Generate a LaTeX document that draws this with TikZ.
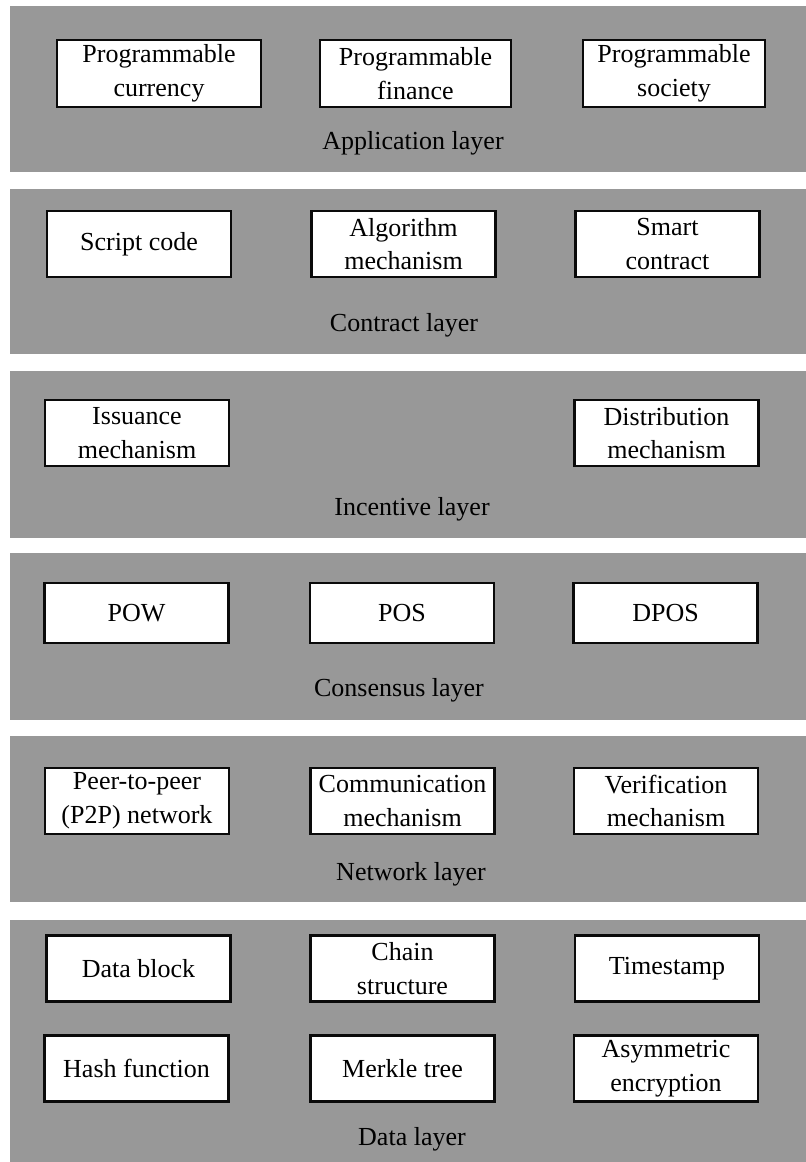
\documentclass[tikz,border=0pt]{standalone}
\usepackage{fontspec}
\setmainfont{Liberation Serif}
\usepackage{tikz}
\usetikzlibrary{positioning}
\definecolor{layerc}{RGB}{152,152,152}
\definecolor{boxc}{RGB}{10,10,10}

\begin{document}
\begin{tikzpicture}[x=0.025cm,y=-0.025cm,font=\fontsize{18.5}{24}\selectfont,
  layer/.style={fill=layerc},
  cell/.style={draw=boxc,fill=white,line width=1.5pt,align=center,
    minimum width=4.6cm,minimum height=1.65cm,inner ysep=0pt,inner xsep=2pt},
  lbl/.style={anchor=base}]
  \useasboundingbox (0,0) rectangle (806,1162);
  % layers
  \fill[layer] (10,6) rectangle (806,172);
  \fill[layer] (10,189) rectangle (806,354);
  \fill[layer] (10,371) rectangle (806,538);
  \fill[layer] (10,553) rectangle (806,720);
  \fill[layer] (10,736) rectangle (806,902);
  \fill[layer] (10,920) rectangle (806,1162);
  % application layer
  \node[cell,minimum width=5.1cm,minimum height=1.675cm] (pcur) at (159,73.5) {Programmable\\currency};
  \node[cell,minimum width=4.775cm,minimum height=1.675cm] (pfin) at (415.5,73.5) {Programmable\\finance};
  \node[cell,minimum width=4.55cm,minimum height=1.675cm] (psoc) at (674,73.5) {Programmable\\society};
  \node[lbl] (applay) at (413,150) {Application layer};
  % contract layer
  \node[cell] (script) at (139,244) {Script code};
  \node[cell] (algo) at (403.5,244) {Algorithm\\mechanism};
  \node[cell] (smart) at (667.5,244) {Smart\\contract};
  \node[lbl] (conlay) at (404,331) {Contract layer};
  % incentive layer
  \node[cell] (issue) at (137,433) {Issuance\\mechanism};
  \node[cell] (distr) at (666.5,433) {Distribution\\mechanism};
  \node[lbl] (inclay) at (412,515) {Incentive layer};
  % consensus layer
  \node[cell,minimum height=1.5cm] (pow) at (136.5,613) {POW};
  \node[cell,minimum height=1.5cm] (pos) at (402,613) {POS};
  \node[cell,minimum height=1.5cm] (dpos) at (665.5,613) {DPOS};
  \node[lbl] (cnslay) at (399,696) {Consensus layer};
  % network layer
  \node[cell] (ptp) at (137,801) {Peer-to-peer\\(P2P) network};
  \node[cell] (comm) at (402.5,801) {Communication\\mechanism};
  \node[cell] (verif) at (666,801) {Verification\\mechanism};
  \node[lbl] (netlay) at (411,880) {Network layer};
  % data layer
  \node[cell] (dblock) at (138.5,968.5) {Data block};
  \node[cell] (chain) at (402.5,968.5) {Chain\\structure};
  \node[cell] (tstamp) at (667,968.5) {Timestamp};
  \node[cell] (hash) at (136.5,1068.5) {Hash function};
  \node[cell] (merkle) at (402.5,1068.5) {Merkle tree};
  \node[cell] (asym) at (666,1068.5) {Asymmetric\\encryption};
  \node[lbl] (datlay) at (412,1145) {Data layer};
\end{tikzpicture}
\end{document}
